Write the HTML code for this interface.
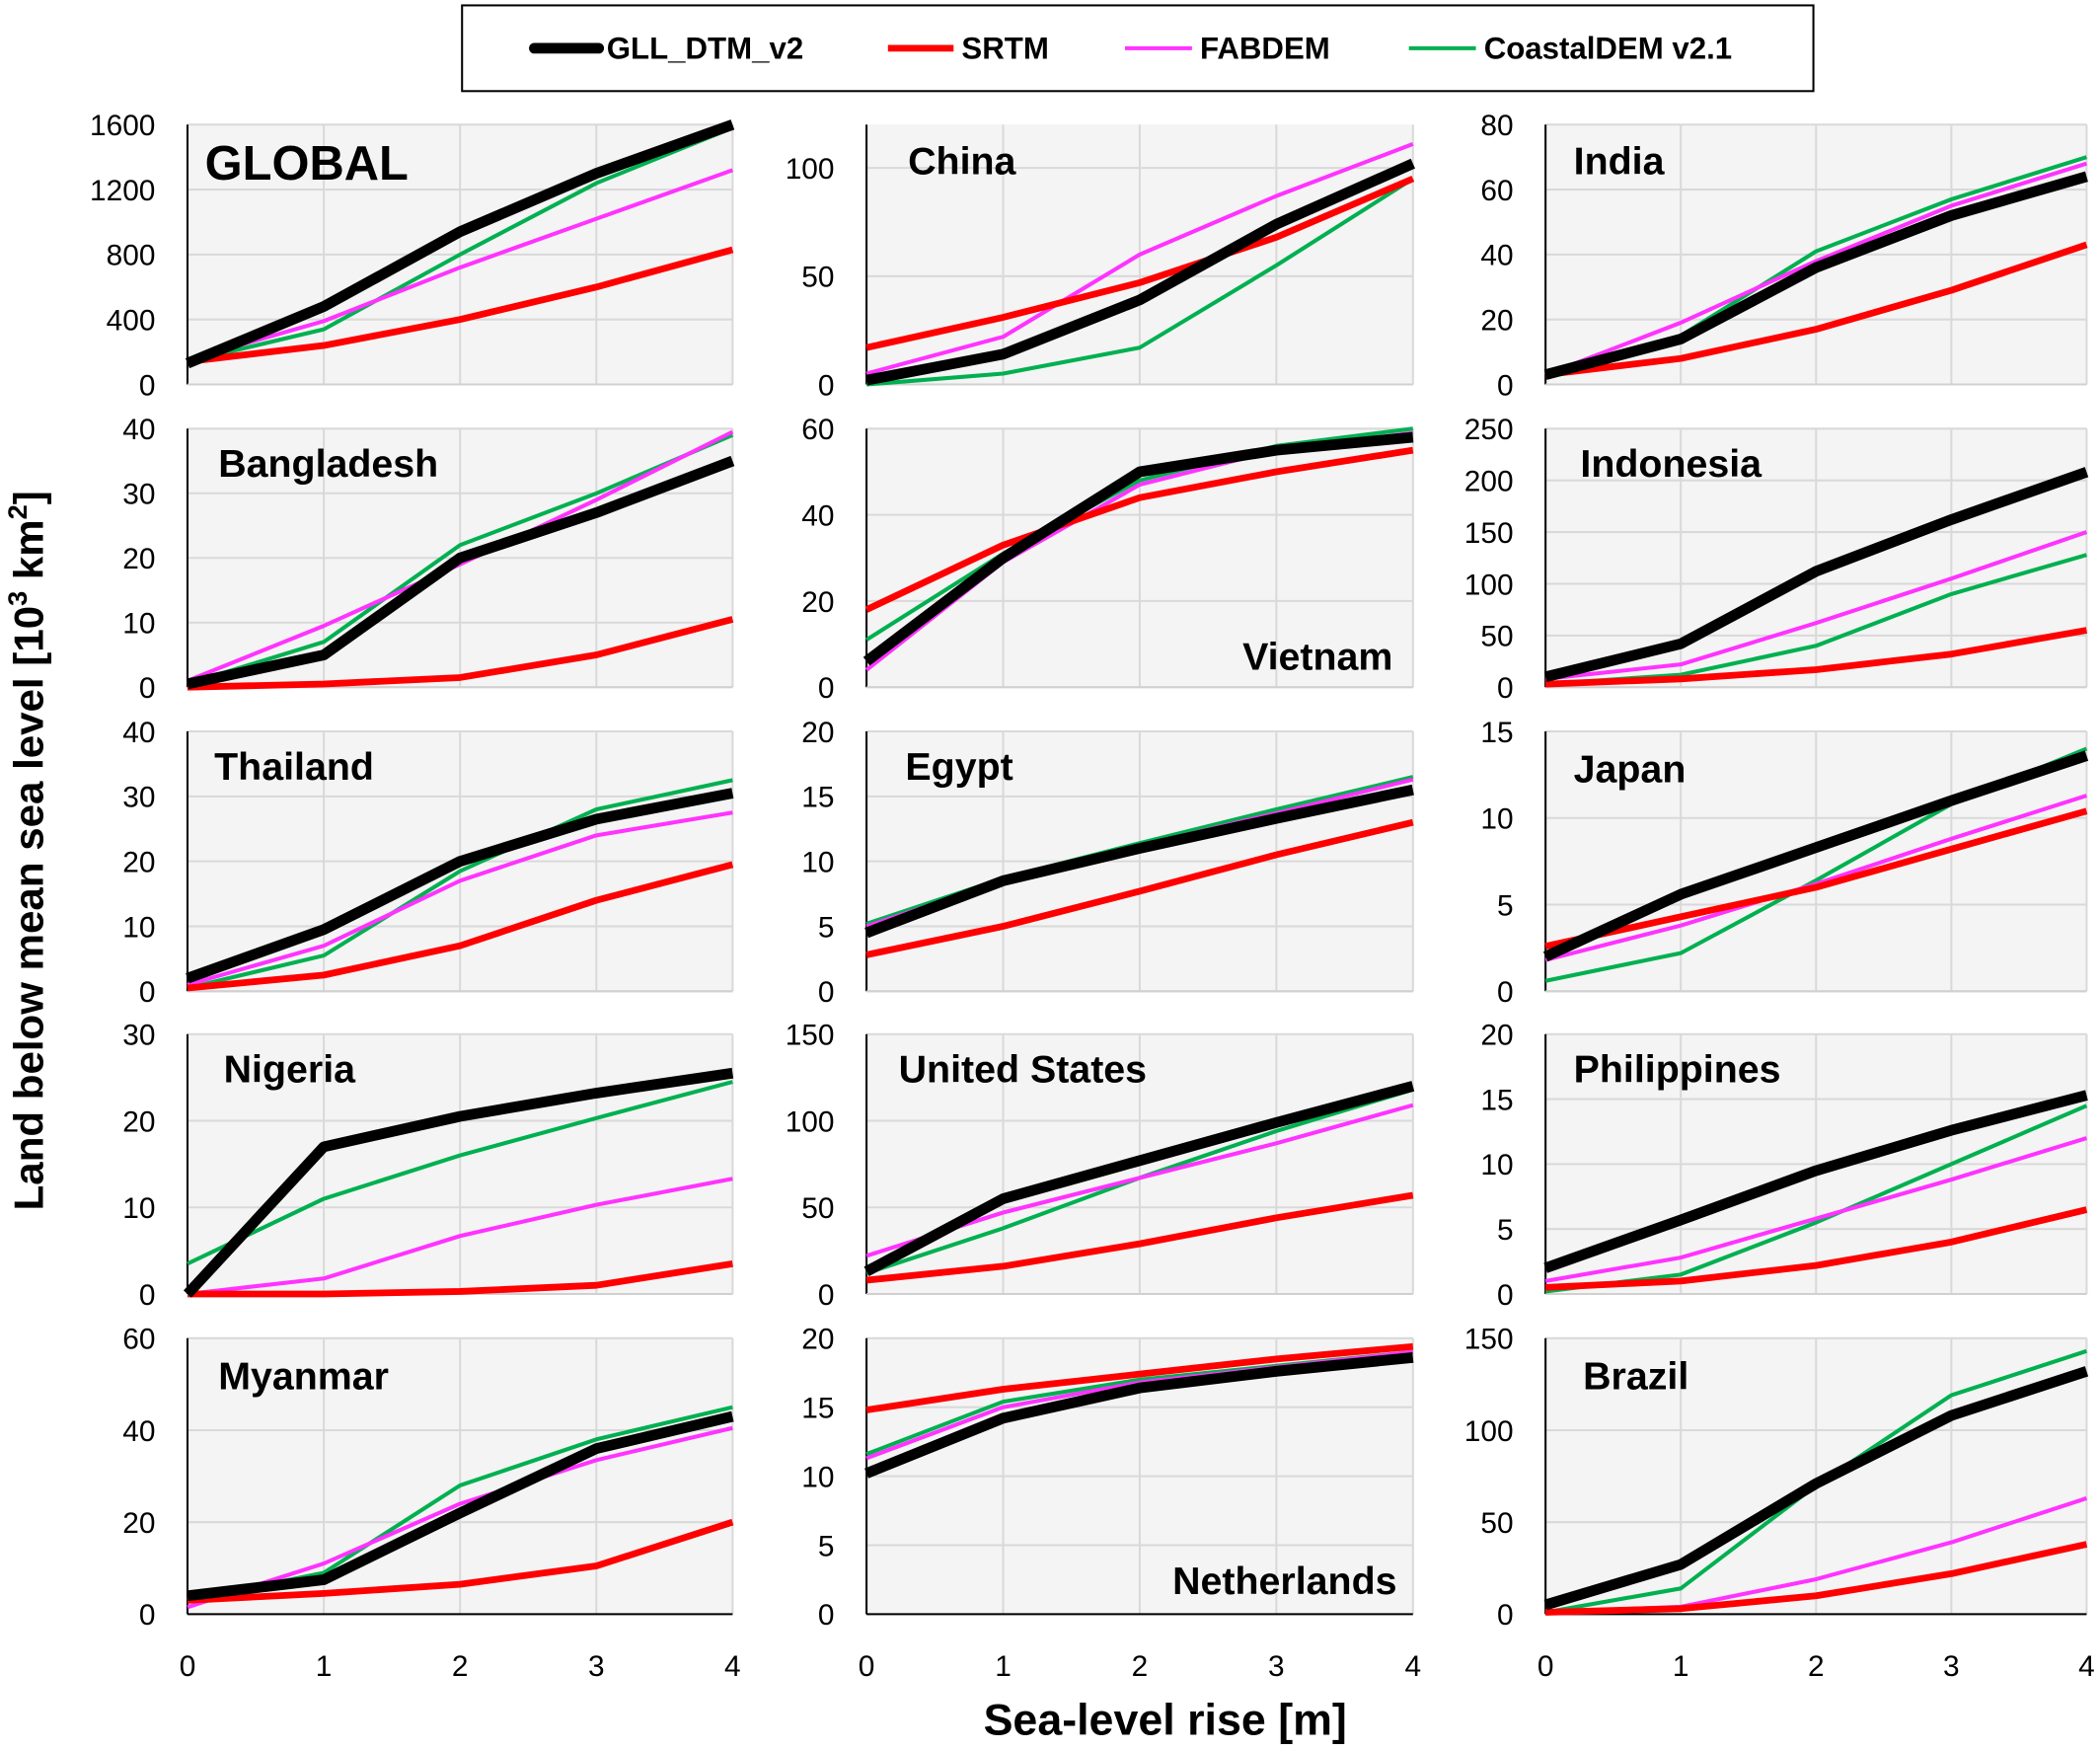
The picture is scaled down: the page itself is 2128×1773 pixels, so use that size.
<!DOCTYPE html>
<html><head><meta charset="utf-8"><style>
html,body{margin:0;padding:0;background:#fff;}
svg{display:block;font-family:"Liberation Sans",Calibri,sans-serif;}
</style></head><body>
<svg id="chart" width="2128" height="1773" viewBox="0 0 1568 1306.4" xmlns="http://www.w3.org/2000/svg">
<rect width="1568" height="1306.4" fill="#fff"/>
<g>
<rect x="345" y="4" width="1009" height="64" fill="#fff" stroke="#000" stroke-width="1.5"/>
<line x1="399" y1="36" x2="447" y2="36" stroke="#000" stroke-width="8" stroke-linecap="round"/>
<text x="453" y="44" font-size="23" font-weight="bold">GLL_DTM_v2</text>
<line x1="663" y1="36" x2="712" y2="36" stroke="#f00" stroke-width="5"/>
<text x="718" y="44" font-size="23" font-weight="bold">SRTM</text>
<line x1="840" y1="36" x2="890" y2="36" stroke="#f3f" stroke-width="3"/>
<text x="896" y="44" font-size="23" font-weight="bold">FABDEM</text>
<line x1="1052" y1="36" x2="1102" y2="36" stroke="#00b050" stroke-width="3"/>
<text x="1108" y="44" font-size="23" font-weight="bold">CoastalDEM v2.1</text>
</g>
<text transform="translate(32,635) rotate(-90)" text-anchor="middle" font-size="31" font-weight="bold">Land below mean sea level [10<tspan font-size="20" dy="-12">3</tspan><tspan dy="12"> km</tspan><tspan font-size="20" dy="-12">2</tspan><tspan dy="12">]</tspan></text>
<text x="870" y="1295" text-anchor="middle" font-size="33" font-weight="bold">Sea-level rise [m]</text>
<g id="panels"></g>
</svg>
<script>
const seriesNames = ['GLL_DTM_v2','SRTM','FABDEM','CoastalDEM v2.1'];
const xValues = [0,1,2,3,4];
const panelNames = ['GLOBAL','China','India','Bangladesh','Vietnam','Indonesia','Thailand','Egypt','Japan','Nigeria','United States','Philippines','Myanmar','Netherlands','Brazil'];
const yMax = [1600,120,80,40,60,250,40,20,15,30,150,20,60,20,150];
const yStep = [400,50,20,10,20,50,10,5,5,10,50,5,20,5,50];
const gllValues = [
[130,480,940,1300,1600],[2,14,39,74,102],[3,14,36,52,64],
[0.5,5,20,27,35],[6,30,50,55,58],[10,42,112,162,208],
[2,9.5,20,26.5,30.5],[4.5,8.5,11,13.3,15.5],[2,5.6,8.3,11,13.6],
[0,17,20.5,23.2,25.5],[13,55,77,99,120],[2,5.7,9.5,12.6,15.3],
[4,7.5,22,36,43],[10.2,14.2,16.4,17.6,18.6],[5,27,71,108,132]];
const srtmValues = [
[140,240,400,600,830],[17,31,47,68,95],[3,8,17,29,43],
[0,0.5,1.5,5,10.5],[18,33,44,50,55],[3,8,17,32,55],
[0.5,2.5,7,14,19.5],[2.8,5,7.7,10.5,13],[2.6,4.3,6,8.2,10.4],
[0,0,0.3,1,3.5],[8,16,29,44,57],[0.5,1,2.2,4,6.5],
[3,4.5,6.5,10.5,20],[14.8,16.3,17.4,18.5,19.4],[1,3,10,22,38]];
const fabdemValues = [
[150,390,720,1020,1320],[5,22,60,87,111],[3,19,38,55,68],
[1,9.5,19,29,39.5],[4,29,47,55,59],[8,22,62,105,150],
[1,7,17,24,27.5],[5,8.5,11.2,13.7,16.3],[1.8,3.8,6.2,8.8,11.3],
[0,1.8,6.7,10.3,13.3],[22,47,67,87,109],[1,2.8,5.8,8.8,12],
[1.5,11,24,33.5,40.5],[11.3,15,16.8,17.9,19],[1,4,19,39,63]];
const coastalValues = [
[140,340,800,1240,1580],[0,5,17,55,95],[3,15,41,57,70],
[0.5,7,22,30,39],[11,31,48,56,60],[3,12,40,90,128],
[0.5,5.5,18.5,28,32.5],[5.2,8.7,11.4,14,16.5],[0.6,2.2,6.4,10.8,14],
[3.5,11,16,20.3,24.5],[12,38,67,94,118],[0.2,1.5,5.5,10,14.5],
[3,9,28,38,45],[11.6,15.4,17,18,19],[1,14,70,119,143]];

const NS='http://www.w3.org/2000/svg';
const colX=[[140,547],[647,1055],[1154,1558]];
const rowY=[[93,287],[320,513],[546,740],[772,966],[999,1205]];
const titlePos=[[153,134,36,'start'],[678,130,29,'start'],[1175,130,29,'start'],[163,356,29,'start'],[1040,500,29,'end'],[1180,356,29,'start'],[160,582,29,'start'],[676,582,29,'start'],[1175,584,29,'start'],[167,808,29,'start'],[671,808,29,'start'],[1175,808,29,'start'],[163,1037,29,'start'],[1043,1190,29,'end'],[1182,1037,29,'start']];
const styles=[['#000',8],['#f00',5],['#f3f',3],['#00b050',3]];
const root=document.getElementById('panels');
function mk(tag,attrs,parent){const e=document.createElementNS(NS,tag);for(const k in attrs)e.setAttribute(k,attrs[k]);parent.appendChild(e);return e;}
panelNames.forEach((name,i)=>{
  const [x0,x1]=colX[i%3],[y0,y1]=rowY[Math.floor(i/3)];
  const sx=v=>x0+(v-xValues[0])/(xValues[xValues.length-1]-xValues[0])*(x1-x0);
  const sy=v=>y1-v/yMax[i]*(y1-y0);
  const g=mk('g',{},root);
  
  
  mk('rect',{x:x0,y:y0,width:x1-x0,height:y1-y0,fill:'#f4f4f4'},g);
  for(let t=0;t<=yMax[i]+1e-9;t+=yStep[i]){
    mk('line',{x1:x0,x2:x1,y1:sy(t),y2:sy(t),stroke:'#d9d9d9','stroke-width':1.5},g);
    const tl=mk('text',{x:x0-24,y:sy(t)+8,'text-anchor':'end','font-size':22},g);
    
    
    tl.textContent=t;
  }
  xValues.forEach(xv=>{ if(xv>0) mk('line',{x1:sx(xv),x2:sx(xv),y1:y0,y2:y1,stroke:'#d9d9d9','stroke-width':1.5},g); });
  mk('line',{x1:x0,x2:x0,y1:y0,y2:y1,stroke:'#000','stroke-width':1.5},g);
  mk('line',{x1:x0,x2:x1,y1:y1,y2:y1,stroke:i>=12?'#000':'#d0d0d0','stroke-width':1.5},g);
  if(i>=12){ xValues.forEach(xv=>{
    const xl=mk('text',{x:sx(xv),y:1251,'text-anchor':'middle','font-size':22},g);
    
    
    xl.textContent=xv; }); }
  const tp=titlePos[i];
  const tt=mk('text',{x:tp[0],y:tp[1],'text-anchor':tp[3],'font-size':tp[2],'font-weight':'bold',fill:'#000'},g);
  
  
  tt.textContent=name;
  const all=[gllValues[i],srtmValues[i],fabdemValues[i],coastalValues[i]];
  [3,2,1,0].forEach(s=>{
    const pts=all[s].map((v,j)=>sx(xValues[j]).toFixed(1)+','+sy(v).toFixed(1)).join(' ');
    const pl=mk('polyline',{points:pts,fill:'none',stroke:styles[s][0],'stroke-width':styles[s][1],'stroke-linejoin':'round'},g);
    
    
  });
});
</script>
</body></html>
